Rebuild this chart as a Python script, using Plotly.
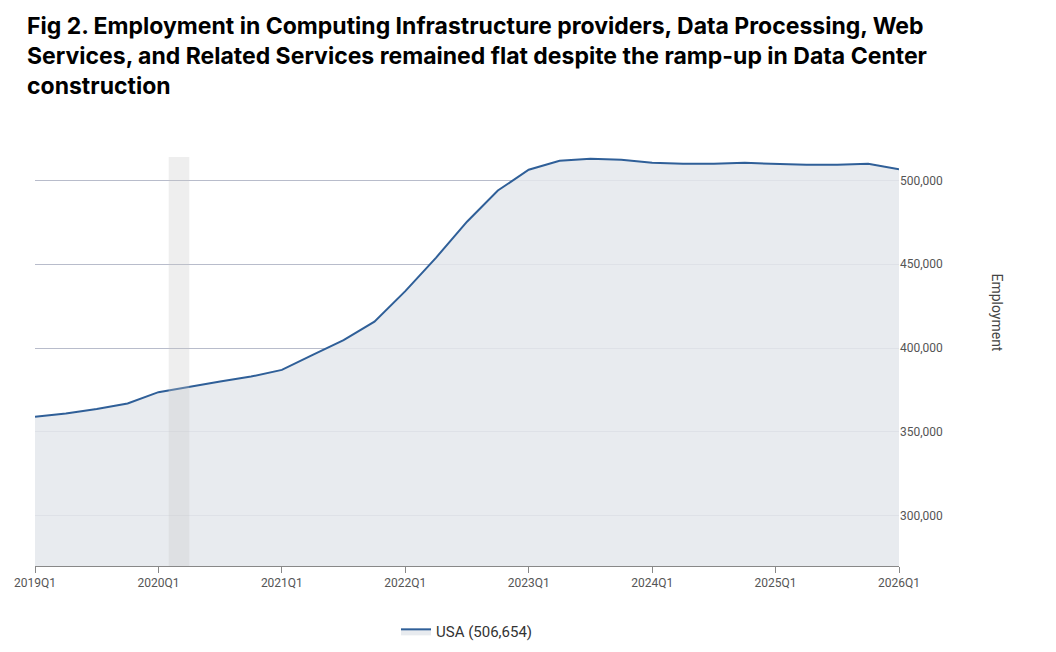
import plotly.graph_objects as go

# Quarterly employment, 2019Q1 .. 2026Q1
quarters = [f"{y}Q{q}" for y in range(2019, 2026) for q in range(1, 5)] + ["2026Q1"]
employment = [
    359000, 361000, 363700, 367000,
    373700, 377000, 380000, 383000,
    387000, 396000, 404700, 415800,
    434000, 454000, 475400, 494000,
    506400, 511700, 512900, 512300,
    510500, 510000, 510000, 510500,
    510000, 509400, 509400, 510000,
    506654,
]
tick_labels = [f"{y}Q1" for y in range(2019, 2027)]
recession = [2020.083, 2020.25]

x_vals = [int(q[:4]) + (int(q[-1]) - 1) / 4 for q in quarters]

fig = go.Figure()
fig.add_trace(go.Scatter(
    x=x_vals, y=employment, mode="lines", fill="tozeroy",
    fillcolor="rgba(228,231,236,0.85)",
    line=dict(color="#2f5f98", width=2),
    name=f"USA ({employment[-1]:,})",
))
fig.add_vrect(x0=recession[0], x1=recession[1], fillcolor="rgba(200,200,200,0.3)",
              line_width=0, layer="above", y0=0, y1=1.0)

fig.update_layout(
    width=1056, height=652,
    plot_bgcolor="white", paper_bgcolor="white",
    margin=dict(l=27, r=165, t=149, b=86),
    font=dict(family="Roboto, sans-serif", color="#555"),
    showlegend=True,
    legend=dict(orientation="h", x=0.5, xanchor="center", y=-0.12, yanchor="top",
                font=dict(size=15, color="#333")),
    xaxis=dict(
        range=[2019, 2026], tickvals=list(range(2019, 2027)), ticktext=tick_labels,
        showgrid=False, ticks="outside", ticklen=6, tickcolor="#888", automargin=False,
        showline=True, linecolor="#888", tickfont=dict(size=12, color="#555"),
    ),
    yaxis=dict(
        side="right", range=[270000, 514000], tickvals=[300000, 350000, 400000, 450000, 500000],
        tickformat=",", gridcolor="#b8bccb", zeroline=False, automargin=False,
        tickfont=dict(size=12, color="#555"),
    ),
)
fig.add_annotation(
    text="<b>Fig 2. Employment in Computing Infrastructure providers, Data Processing, Web<br>"
         "Services, and Related Services remained flat despite the ramp-up in Data Center<br>"
         "construction</b>",
    xref="paper", yref="paper", x=-0.012, y=1.36, xanchor="left", yanchor="top",
    align="left", showarrow=False,
    font=dict(family="Inter, Lato, sans-serif", size=23, color="black"),
)
fig.add_annotation(text="Employment", xref="paper", yref="paper", x=1.125, y=0.62,
                   textangle=90, showarrow=False, font=dict(size=14, color="#444"))

fig.write_html("out.html")
